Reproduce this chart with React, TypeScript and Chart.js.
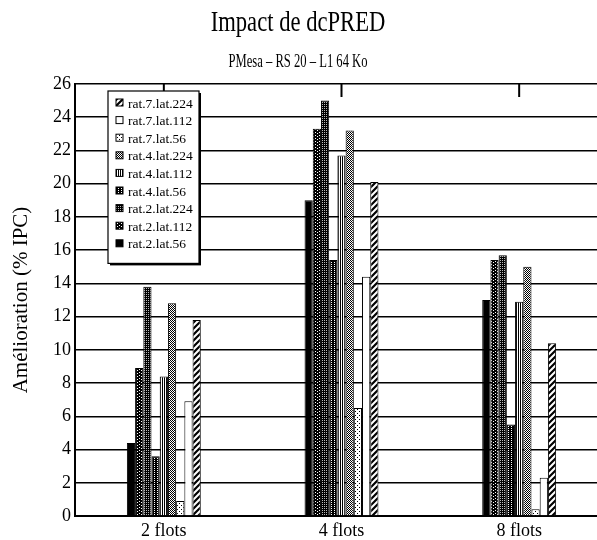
import React, { useEffect, useRef } from 'react';
import { Chart, registerables } from 'chart.js';

Chart.register(...registerables);

const titleText = 'Impact de dcPRED';
const subtitleText = 'PMesa – RS 20 – L1 64 Ko';
const categories = ['2 flots', '4 flots', '8 flots'];
const seriesNames = [
  'rat.2.lat.56', 'rat.2.lat.112', 'rat.2.lat.224',
  'rat.4.lat.56', 'rat.4.lat.112', 'rat.4.lat.224',
  'rat.7.lat.56', 'rat.7.lat.112', 'rat.7.lat.224',
];
const rat2lat56 = [4.4, 19.0, 13.0];
const rat2lat112 = [8.9, 23.3, 15.4];
const rat2lat224 = [13.8, 25.0, 15.7];
const rat4lat56 = [3.6, 15.4, 5.5];
const rat4lat112 = [8.4, 21.7, 12.9];
const rat4lat224 = [12.8, 23.2, 15.0];
const rat7lat56 = [0.9, 6.5, 0.4];
const rat7lat112 = [6.9, 14.4, 2.3];
const rat7lat224 = [11.8, 20.1, 10.4];
const seriesValues = [
  rat2lat56, rat2lat112, rat2lat224,
  rat4lat56, rat4lat112, rat4lat224,
  rat7lat56, rat7lat112, rat7lat224,
];
const yTicks = [0, 2, 4, 6, 8, 10, 12, 14, 16, 18, 20, 22, 24, 26];

const SERIF = '"Liberation Serif", "DejaVu Serif", serif';

function tile(w: number, h: number, bg: string, fg: string, pts: number[][]) {
  const c = document.createElement('canvas');
  c.width = w; c.height = h;
  const x = c.getContext('2d')!;
  x.fillStyle = bg; x.fillRect(0, 0, w, h);
  x.fillStyle = fg;
  pts.forEach(([px, py]) => x.fillRect(px, py, 1, 1));
  return x.createPattern(c, 'repeat')!;
}

function hatch() {
  const c = document.createElement('canvas');
  c.width = 6; c.height = 6;
  const x = c.getContext('2d')!;
  x.fillStyle = '#fff'; x.fillRect(0, 0, 6, 6);
  x.strokeStyle = '#000'; x.lineWidth = 2.2;
  x.beginPath();
  x.moveTo(-1, 7); x.lineTo(7, -1);
  x.moveTo(-4, 4); x.lineTo(4, -4);
  x.moveTo(2, 10); x.lineTo(10, 2);
  x.stroke();
  return x.createPattern(c, 'repeat')!;
}

function makeFills(): (string | CanvasPattern)[] {
  return [
    '#000',
    tile(4, 3, '#000', '#fff', [[1, 1], [3, 0]]),
    tile(2, 2, '#000', '#bbb', [[0, 0]]),
    tile(3, 2, '#000', '#fff', [[1, 0]]),
    tile(2, 2, '#000', '#fff', [[1, 0], [1, 1]]),
    tile(2, 2, '#fff', '#000', [[0, 0], [1, 1]]),
    tile(4, 4, '#fff', '#000', [[1, 1], [3, 3]]),
    '#fff',
    hatch(),
  ];
}

const titles = {
  id: 'titles',
  afterDraw(chart: any) {
    const { ctx } = chart;
    const cx = 310;
    ctx.save();
    ctx.fillStyle = '#000';
    ctx.textAlign = 'center';
    ctx.textBaseline = 'alphabetic';
    ctx.save();
    ctx.translate(cx, 31);
    ctx.scale(0.78, 1);
    ctx.font = '29px ' + SERIF;
    ctx.fillText(titleText, 0, 0);
    ctx.restore();
    ctx.save();
    ctx.translate(cx, 67);
    ctx.scale(0.7, 1);
    ctx.font = '18px ' + SERIF;
    ctx.fillText(subtitleText, 0, 0);
    ctx.restore();
    ctx.restore();
  },
};

const topTicks = {
  id: 'topTicks',
  afterDatasetsDraw(chart: any) {
    const { ctx, chartArea, scales } = chart;
    const xs = scales.x;
    ctx.save();
    ctx.strokeStyle = '#000';
    ctx.lineWidth = 2;
    xs.ticks.forEach((_t: any, i: number) => {
      const x = xs.getPixelForTick(i);
      ctx.beginPath();
      ctx.moveTo(x, chartArea.top);
      ctx.lineTo(x, chartArea.top + 13);
      ctx.stroke();
    });
    ctx.restore();
  },
};

const boxLegend = {
  id: 'boxLegend',
  afterDraw(chart: any) {
    const { ctx, chartArea } = chart;
    const ds = chart.data.datasets;
    const left = chartArea.left + 33;
    const top = chartArea.top + 7;
    const w = 91;
    const rowH = 17.6;
    const h = rowH * ds.length + 14;
    ctx.save();
    ctx.fillStyle = '#000';
    ctx.fillRect(left + 2, top + 2, w, h);
    ctx.fillStyle = '#fff';
    ctx.fillRect(left, top, w, h);
    ctx.strokeStyle = '#000';
    ctx.lineWidth = 1.2;
    ctx.strokeRect(left, top, w, h);
    ctx.font = '13.5px ' + SERIF;
    ctx.textBaseline = 'middle';
    for (let k = 0; k < ds.length; k++) {
      const d = ds[ds.length - 1 - k];
      const cy = top + 12 + k * rowH;
      ctx.fillStyle = d.backgroundColor;
      ctx.fillRect(left + 8, cy - 4, 7, 7);
      ctx.strokeStyle = '#000';
      ctx.lineWidth = 1;
      ctx.strokeRect(left + 8, cy - 4, 7, 7);
      ctx.fillStyle = '#000';
      ctx.fillText(d.label, left + 20, cy + 1);
    }
    ctx.restore();
  },
};

export default function App() {
  const ref = useRef<HTMLCanvasElement>(null);
  useEffect(() => {
    document.body.style.margin = '0';
    document.body.style.overflow = 'hidden';
    const fills = makeFills();
    const chart = new Chart(ref.current!, {
      type: 'bar',
      data: {
        labels: categories,
        datasets: seriesNames.map((name, i) => ({
          label: name,
          data: seriesValues[i],
          backgroundColor: fills[i] as any,
          borderColor: '#000',
          borderWidth: 1,
          barPercentage: 1,
          categoryPercentage: 0.416,
        })),
      },
      options: {
        animation: false,
        responsive: false,
        maintainAspectRatio: false,
        layout: { padding: { top: 84, right: 2, bottom: 0, left: 0 } },
        plugins: {
          legend: { display: false },
          tooltip: { enabled: false },
          title: { display: false },
        },
        scales: {
          x: {
            grid: { display: false, drawTicks: false },
            border: { display: true, color: '#000', width: 2 },
            ticks: { color: '#000', font: { family: SERIF, size: 18 }, padding: 4 },
            afterFit(s: any) { s.height = 24; },
          },
          y: {
            min: 0,
            max: 26,
            afterBuildTicks(s: any) { s.ticks = yTicks.map((v) => ({ value: v })); },
            grid: { color: '#000', lineWidth: 1.5, drawTicks: false },
            border: { display: true, color: '#000', width: 2 },
            ticks: { color: '#000', font: { family: SERIF, size: 18 }, padding: 4 },
            title: {
              display: true,
              text: 'Amélioration (% IPC)',
              color: '#000',
              font: { family: SERIF, size: 21 },
              padding: { top: 21, bottom: 0 },
            },
            afterFit(s: any) { s.width = 87; },
          },
        },
      },
      plugins: [topTicks, boxLegend, titles],
    });
    return () => chart.destroy();
  }, []);
  return (
    <div style={{ position: 'absolute', left: -12, top: 0, width: 622, height: 540 }}>
      <canvas ref={ref} width={622} height={540} style={{ width: 622, height: 540, display: 'block' }} />
    </div>
  );
}
